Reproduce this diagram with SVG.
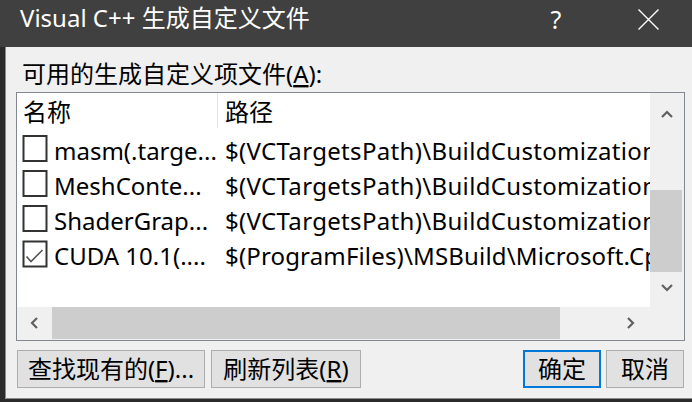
<svg xmlns="http://www.w3.org/2000/svg" width="692" height="402" viewBox="0 0 692 402">
<style>
text{font-family:'Noto Sans','Noto Sans CJK SC',sans-serif;font-size:24px;fill:#000}
.title{fill:#fff}
.btn{fill:#e1e1e1;stroke:#adadad;stroke-width:1}
.cb{fill:#fff;stroke:#333;stroke-width:2}
.chev{fill:none;stroke:#606060;stroke-width:2.2}
.u{text-decoration:underline}
</style>
<defs>
<clipPath id="listclip"><rect x="17" y="93" width="633" height="214"/></clipPath>
</defs>
<rect x="0" y="0" width="692" height="402" fill="#f0f0f0"/>
<g id="titlebar">
<rect x="0" y="0" width="692" height="47" fill="#404040"/>
<text class="title" x="20" y="27">Visual C++ 生成自定义文件</text>
<text class="title" x="556" y="29" text-anchor="middle" style="font-size:25px">?</text>
<path d="M638.5 9.5L658.5 29.5M658.5 9.5L638.5 29.5" stroke="#fff" stroke-width="1.4" fill="none"/>
</g>
<g id="frame">
<rect x="0" y="47" width="5" height="355" fill="#2b2b2b"/>
<rect x="0" y="399" width="692" height="3" fill="#2b2b2b"/>
<line x1="5.5" y1="47" x2="5.5" y2="398.5" stroke="#8a8a8a"/>
<line x1="5.5" y1="398.5" x2="692" y2="398.5" stroke="#8a8a8a"/>
</g>
<g id="label">
<text x="22" y="83">可用的生成自定义项文件(<tspan class="u">A</tspan>):</text>
</g>
<g id="listbox">
<rect x="16.5" y="92.5" width="668" height="248" fill="#fff" stroke="#828790"/>
<line x1="217.5" y1="93" x2="217.5" y2="128" stroke="#e5e5e5"/>
<text x="23" y="121">名称</text>
<text x="225" y="121">路径</text>
</g>
<g id="rows">
<g id="row1">
<rect class="cb" x="23.5" y="136" width="23" height="25"/>
<text x="54" y="160">masm(.targe...</text>
<text x="225" y="160" clip-path="url(#listclip)" textLength="432" lengthAdjust="spacing">$(VCTargetsPath)\BuildCustomization</text>
</g>
<g id="row2">
<rect class="cb" x="23.5" y="171" width="23" height="25"/>
<text x="54" y="195">MeshConte...</text>
<text x="225" y="195" clip-path="url(#listclip)" textLength="432" lengthAdjust="spacing">$(VCTargetsPath)\BuildCustomization</text>
</g>
<g id="row3">
<rect class="cb" x="23.5" y="206" width="23" height="25"/>
<text x="54" y="230">ShaderGrap...</text>
<text x="225" y="230" clip-path="url(#listclip)" textLength="432" lengthAdjust="spacing">$(VCTargetsPath)\BuildCustomization</text>
</g>
<g id="row4">
<rect class="cb" x="23.5" y="241.5" width="23" height="25"/>
<path d="M26.5 256.5L31 261.5L42.5 250" fill="none" stroke="#555" stroke-width="1.6"/>
<text x="54" y="265">CUDA 10.1(....</text>
<text x="225" y="265" clip-path="url(#listclip)" textLength="434" lengthAdjust="spacing">$(ProgramFiles)\MSBuild\Microsoft.Cp</text>
</g>
</g>
<g id="vscroll">
<rect x="650" y="93" width="34" height="247" fill="#f0f0f0"/>
<rect x="650" y="190" width="32" height="82" fill="#cdcdcd"/>
<path class="chev" d="M662 117L667 112L672 117"/>
<path class="chev" d="M662 285L667 290L672 285"/>
</g>
<g id="hscroll">
<rect x="17" y="307" width="667" height="33" fill="#f0f0f0"/>
<rect x="52" y="307" width="508" height="32" fill="#cdcdcd"/>
<path class="chev" d="M37 318L32 323L37 328"/>
<path class="chev" d="M628 318L633 323L628 328"/>
</g>
<g id="buttons">
<g id="btn-find">
<rect class="btn" x="17.5" y="350.5" width="187" height="37"/>
<text x="111" y="378" text-anchor="middle">查找现有的(<tspan class="u">F</tspan>)...</text>
</g>
<g id="btn-refresh">
<rect class="btn" x="211.5" y="350.5" width="149" height="37"/>
<text x="286" y="378" text-anchor="middle">刷新列表(<tspan class="u">R</tspan>)</text>
</g>
<g id="btn-ok">
<rect x="524" y="351" width="76" height="36" fill="#e1e1e1" stroke="#0078d7" stroke-width="2"/>
<text x="562" y="378" text-anchor="middle">确定</text>
</g>
<g id="btn-cancel">
<rect class="btn" x="606.5" y="350.5" width="77" height="37"/>
<text x="645" y="378" text-anchor="middle">取消</text>
</g>
</g>
</svg>
